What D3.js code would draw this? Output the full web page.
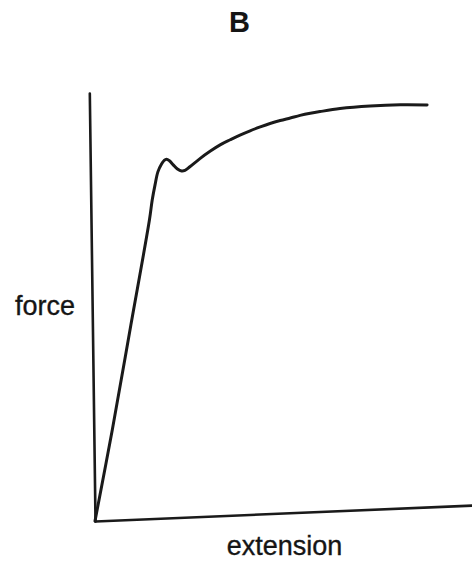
<!DOCTYPE html>
<html>
<head>
<meta charset="utf-8">
<script src="https://cdn.jsdelivr.net/npm/d3@7"></script>
<style>
  html, body { margin: 0; padding: 0; background: #ffffff; }
  svg { display: block; }
  text { font-family: "Liberation Sans", Arial, sans-serif; fill: #151515; }
</style>
</head>
<body>
<script>
// Force–extension curve of a ductile material: linear elastic rise,
// a small yield drop, then work hardening towards a plateau.
const extension = [0, 4.9, 10.2, 15.5, 16.3, 17.1, 17.9, 18.9, 19.6, 20.2, 21.0, 22.0, 23.1, 24.2, 25.1,
                   26.4, 29.1, 31.8, 34.5, 37.2, 39.8, 42.5, 45.2, 47.8, 50.5, 53.2, 55.8, 58.5, 61.1,
                   66.4, 74.4, 82.4, 89.5];
const force     = [0, 21.1, 45.4, 69.8, 74.4, 77.9, 80.9, 82.7, 83.5, 83.8, 83.4, 82.4, 81.4, 80.9, 81.0,
                   81.8, 83.6, 85.2, 86.6, 87.7, 88.7, 89.6, 90.4, 91.1, 91.7, 92.2, 92.7, 93.1, 93.4,
                   93.9, 94.2, 94.2, 93.9];
const panelTitle = "B";
const xLabel = "extension";
const yLabel = "force";

const W = 472, H = 565;
const svg = d3.select("body").append("svg").attr("width", W).attr("height", H);

// Scales in the plot's own frame (origin at the corner of the axes).
const x = d3.scaleLinear().domain([0, 100]).range([0, 377]);
const y = d3.scaleLinear().domain([0, 100]).range([0, -428]);

// The axes are not quite square to the page, so the plot frame is sheared.
const plot = svg.append("g")
  .attr("transform", "matrix(1,-0.042,0.0133,1,95,521)");

const ink = "#1a1a1a";

const xAxis = plot.append("g")
  .call(d3.axisBottom(x).ticks(0).tickSizeOuter(0));
const yAxis = plot.append("g")
  .call(d3.axisLeft(y).ticks(0).tickSizeOuter(0));
[xAxis, yAxis].forEach(g => {
  g.select(".domain").attr("stroke", ink).attr("stroke-width", 2.6).attr("stroke-linecap", "round");
  g.selectAll(".tick").remove();
});

const pts = extension.map((e, i) => [e, force[i]]);
const line = d3.line()
  .x(d => x(d[0]))
  .y(d => y(d[1]))
  .curve(d3.curveCatmullRom.alpha(0.5));

plot.append("path")
  .datum(pts)
  .attr("d", line)
  .attr("fill", "none")
  .attr("stroke", ink)
  .attr("stroke-width", 3)
  .attr("stroke-linecap", "round")
  .attr("stroke-linejoin", "round");

svg.append("text")
  .attr("x", 239.5).attr("y", 32)
  .attr("text-anchor", "middle")
  .attr("font-size", 29).attr("font-weight", "bold")
  .text(panelTitle);

svg.append("text")
  .attr("x", 15).attr("y", 315)
  .attr("font-size", 27)
  .attr("stroke", "#151515").attr("stroke-width", 0.35)
  .text(yLabel);

svg.append("text")
  .attr("x", 284.5).attr("y", 555)
  .attr("text-anchor", "middle")
  .attr("font-size", 27)
  .attr("stroke", "#151515").attr("stroke-width", 0.35)
  .text(xLabel);
</script>
</body>
</html>
